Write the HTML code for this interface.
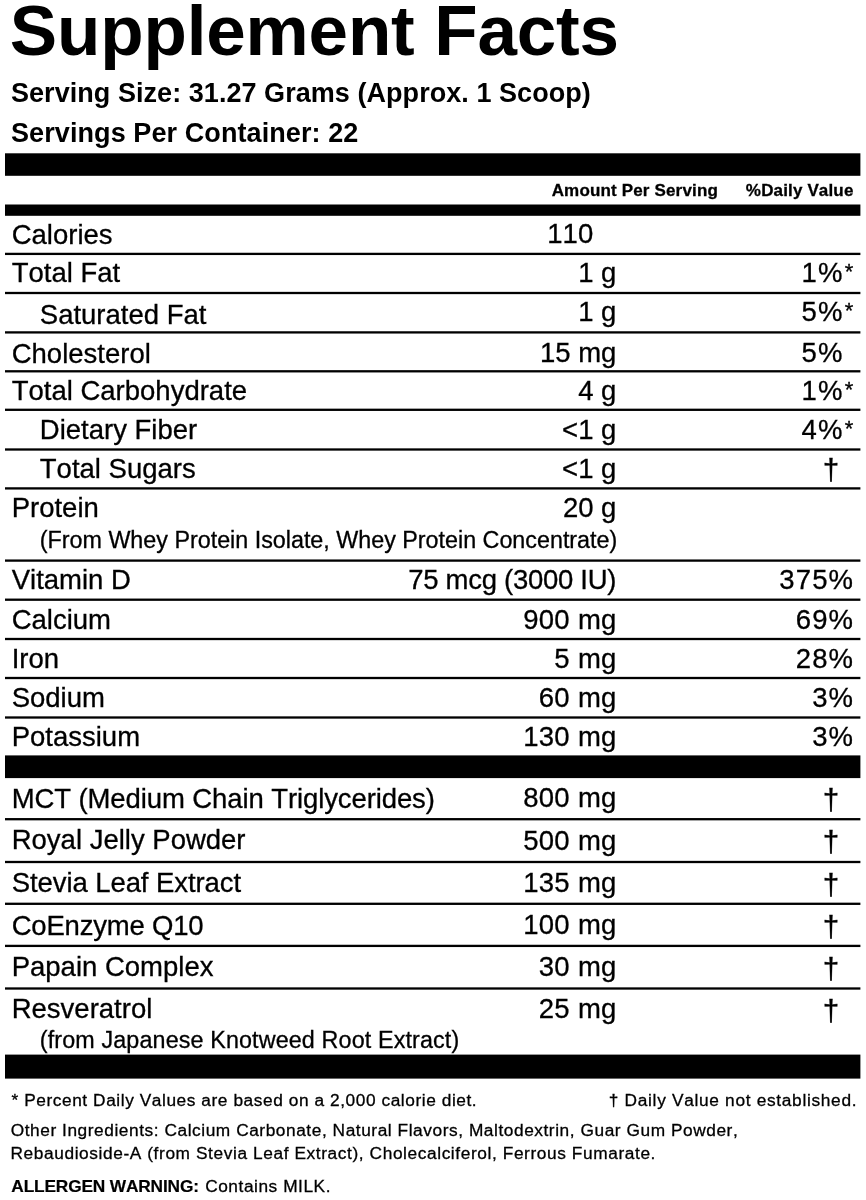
<!DOCTYPE html>
<html lang="en">
<head>
<meta charset="utf-8">
<title>Supplement Facts</title>
<style>
html,body{margin:0;padding:0;background:#fff;}
body{width:866px;height:1200px;overflow:hidden;}
#label{position:relative;width:866px;height:1200px;background:#fff;color:#000;font-family:"Liberation Sans", Arial, Helvetica, sans-serif;overflow:hidden;}
#rules{position:absolute;left:0;top:0;width:866px;height:1200px;}
.t{position:absolute;white-space:nowrap;line-height:0;color:#000;font-kerning:none;-webkit-text-stroke:0.3px #000;}
.fn{-webkit-text-stroke:0.3px #000;}
.b{-webkit-text-stroke:0;}
.t::before{content:"";display:inline-block;width:0;height:40px;}
.h{visibility:hidden;}
.a{font-size:80%;vertical-align:2.8px;margin-left:1.25px;}
.al b{font-weight:700;letter-spacing:-0.15px;-webkit-text-stroke:0.2px #000;}
.al span{letter-spacing:0.55px;margin-left:1px;}
</style>
</head>
<body>
<div id="label">
<svg id="rules" width="866" height="1200" viewBox="0 0 866 1200" fill="#000">
<rect x="5" y="153.3" width="855.4" height="22.50"/>
<rect x="5" y="204.5" width="855.4" height="11.30"/>
<rect x="5" y="252.75" width="855.4" height="2.3"/>
<rect x="5" y="291.85" width="855.4" height="2.3"/>
<rect x="5" y="331.25" width="855.4" height="2.3"/>
<rect x="5" y="370.15" width="855.4" height="2.3"/>
<rect x="5" y="408.65" width="855.4" height="2.3"/>
<rect x="5" y="448.35" width="855.4" height="2.3"/>
<rect x="5" y="487.25" width="855.4" height="2.3"/>
<rect x="5" y="559.45" width="855.4" height="2.3"/>
<rect x="5" y="598.55" width="855.4" height="2.3"/>
<rect x="5" y="637.85" width="855.4" height="2.3"/>
<rect x="5" y="676.85" width="855.4" height="2.3"/>
<rect x="5" y="716.35" width="855.4" height="2.3"/>
<rect x="5" y="755.4" width="855.4" height="22.70"/>
<rect x="5" y="818.05" width="855.4" height="2.3"/>
<rect x="5" y="860.85" width="855.4" height="2.3"/>
<rect x="5" y="902.65" width="855.4" height="2.3"/>
<rect x="5" y="944.75" width="855.4" height="2.3"/>
<rect x="5" y="987.35" width="855.4" height="2.3"/>
<rect x="5" y="1054.6" width="855.4" height="24.00"/>
</svg>
<div class="t b" style="top:14.70px;font-size:71px;left:9.8px;font-weight:700;letter-spacing:-0.15px;">Supplement Facts</div>
<div class="t b" style="top:61.60px;font-size:27px;left:11px;font-weight:700;letter-spacing:0.05px;">Serving Size: 31.27 Grams (Approx. 1 Scoop)</div>
<div class="t b" style="top:101.50px;font-size:27px;left:11px;font-weight:700;letter-spacing:0.09px;">Servings Per Container: 22</div>
<div class="t" style="top:156.00px;font-size:17px;right:148.00px;font-weight:700;letter-spacing:0.16px;">Amount Per Serving</div>
<div class="t" style="top:156.00px;font-size:17px;right:12.50px;font-weight:700;letter-spacing:0.15px;">%Daily Value</div>
<div class="t" style="top:203.50px;font-size:27.5px;left:11.7px;">Calories</div>
<div class="t" style="top:203.30px;font-size:27.5px;left:547.3px;">110</div>
<div class="t" style="top:242.00px;font-size:27.5px;left:11.7px;">Total Fat</div>
<div class="t" style="top:242.20px;font-size:27.5px;right:249.60px;">1 g</div>
<div class="t" style="top:242.20px;font-size:27.5px;right:11.65px;letter-spacing:1.1px;">1%<span class='a'>*</span></div>
<div class="t" style="top:283.70px;font-size:27.5px;left:39.8px;">Saturated Fat</div>
<div class="t" style="top:281.00px;font-size:27.5px;right:249.60px;">1 g</div>
<div class="t" style="top:281.00px;font-size:27.5px;right:11.65px;letter-spacing:1.1px;">5%<span class='a'>*</span></div>
<div class="t" style="top:322.80px;font-size:27.5px;left:11.7px;">Cholesterol</div>
<div class="t" style="top:322.00px;font-size:27.5px;right:249.60px;">15 mg</div>
<div class="t" style="top:322.00px;font-size:27.5px;right:11.65px;letter-spacing:1.1px;">5%<span class='a h'>*</span></div>
<div class="t" style="top:359.70px;font-size:27.5px;left:11.7px;">Total Carbohydrate</div>
<div class="t" style="top:360.00px;font-size:27.5px;right:249.60px;">4 g</div>
<div class="t" style="top:360.00px;font-size:27.5px;right:11.65px;letter-spacing:1.1px;">1%<span class='a'>*</span></div>
<div class="t" style="top:398.50px;font-size:27.5px;left:39.8px;">Dietary Fiber</div>
<div class="t" style="top:399.00px;font-size:27.5px;right:249.60px;">&lt;1 g</div>
<div class="t" style="top:398.50px;font-size:27.5px;right:11.65px;letter-spacing:1.1px;">4%<span class='a'>*</span></div>
<div class="t" style="top:438.20px;font-size:27.5px;left:39.8px;">Total Sugars</div>
<div class="t" style="top:438.20px;font-size:27.5px;right:249.60px;">&lt;1 g</div>
<div class="t" style="top:440.30px;font-size:29.6px;right:26.70px;">†</div>
<div class="t" style="top:476.80px;font-size:27.5px;left:11.7px;">Protein</div>
<div class="t" style="top:476.60px;font-size:27.5px;right:249.60px;">20 g</div>
<div class="t" style="top:508.30px;font-size:23.3px;left:39.8px;">(From Whey Protein Isolate, Whey Protein Concentrate)</div>
<div class="t" style="top:549.00px;font-size:27.5px;left:11.7px;">Vitamin D</div>
<div class="t" style="top:549.00px;font-size:27.5px;right:249.88px;letter-spacing:-0.28px;">75 mcg (3000 IU)</div>
<div class="t" style="top:549.00px;font-size:27.5px;right:11.90px;letter-spacing:1.1px;">375%</div>
<div class="t" style="top:589.00px;font-size:27.5px;left:11.7px;">Calcium</div>
<div class="t" style="top:588.50px;font-size:27.5px;right:249.30px;letter-spacing:0.3px;">900 mg</div>
<div class="t" style="top:588.50px;font-size:27.5px;right:11.90px;letter-spacing:1.1px;">69%</div>
<div class="t" style="top:627.50px;font-size:27.5px;left:11.7px;">Iron</div>
<div class="t" style="top:627.50px;font-size:27.5px;right:249.30px;letter-spacing:0.3px;">5 mg</div>
<div class="t" style="top:627.50px;font-size:27.5px;right:11.90px;letter-spacing:1.1px;">28%</div>
<div class="t" style="top:666.50px;font-size:27.5px;left:11.7px;">Sodium</div>
<div class="t" style="top:666.50px;font-size:27.5px;right:249.30px;letter-spacing:0.3px;">60 mg</div>
<div class="t" style="top:666.50px;font-size:27.5px;right:11.90px;letter-spacing:1.1px;">3%</div>
<div class="t" style="top:705.50px;font-size:27.5px;left:11.7px;">Potassium</div>
<div class="t" style="top:705.50px;font-size:27.5px;right:249.30px;letter-spacing:0.3px;">130 mg</div>
<div class="t" style="top:705.50px;font-size:27.5px;right:11.90px;letter-spacing:1.1px;">3%</div>
<div class="t" style="top:768.00px;font-size:27.5px;left:11.7px;letter-spacing:-0.1px;">MCT (Medium Chain Triglycerides)</div>
<div class="t" style="top:767.30px;font-size:27.5px;right:249.30px;letter-spacing:0.3px;">800 mg</div>
<div class="t" style="top:770.40px;font-size:29.6px;right:26.70px;">†</div>
<div class="t" style="top:809.30px;font-size:27.5px;left:11.7px;">Royal Jelly Powder</div>
<div class="t" style="top:809.70px;font-size:27.5px;right:249.30px;letter-spacing:0.3px;">500 mg</div>
<div class="t" style="top:812.30px;font-size:29.6px;right:26.70px;">†</div>
<div class="t" style="top:851.70px;font-size:27.5px;left:11.7px;letter-spacing:-0.08px;">Stevia Leaf Extract</div>
<div class="t" style="top:852.20px;font-size:27.5px;right:249.30px;letter-spacing:0.3px;">135 mg</div>
<div class="t" style="top:854.50px;font-size:29.6px;right:26.70px;">†</div>
<div class="t" style="top:894.70px;font-size:27.5px;left:11.7px;letter-spacing:-0.2px;">CoEnzyme Q10</div>
<div class="t" style="top:894.30px;font-size:27.5px;right:249.30px;letter-spacing:0.3px;">100 mg</div>
<div class="t" style="top:897.10px;font-size:29.6px;right:26.70px;">†</div>
<div class="t" style="top:936.30px;font-size:27.5px;left:11.7px;">Papain Complex</div>
<div class="t" style="top:936.00px;font-size:27.5px;right:249.30px;letter-spacing:0.3px;">30 mg</div>
<div class="t" style="top:938.60px;font-size:29.6px;right:26.70px;">†</div>
<div class="t" style="top:977.80px;font-size:27.5px;left:11.7px;">Resveratrol</div>
<div class="t" style="top:977.50px;font-size:27.5px;right:249.30px;letter-spacing:0.3px;">25 mg</div>
<div class="t" style="top:980.70px;font-size:29.6px;right:26.70px;">†</div>
<div class="t" style="top:1008.20px;font-size:23.3px;left:39.8px;letter-spacing:0.14px;">(from Japanese Knotweed Root Extract)</div>
<div class="t fn" style="top:1066.20px;font-size:17.3px;left:11.5px;letter-spacing:0.57px;">* Percent Daily Values are based on a 2,000 calorie diet.</div>
<div class="t fn" style="top:1066.20px;font-size:17.3px;right:8.80px;letter-spacing:0.69px;">† Daily Value not established.</div>
<div class="t fn" style="top:1096.40px;font-size:17.3px;left:10.7px;letter-spacing:0.56px;">Other Ingredients: Calcium Carbonate, Natural Flavors, Maltodextrin, Guar Gum Powder,</div>
<div class="t fn" style="top:1119.10px;font-size:17.3px;left:10.5px;letter-spacing:0.6px;">Rebaudioside-A (from Stevia Leaf Extract), Cholecalciferol, Ferrous Fumarate.</div>
<div class="t fn al" style="top:1151.80px;font-size:17.3px;left:11.3px;"><b>ALLERGEN WARNING:</b><span> Contains MILK.</span></div>
</div>
</body>
</html>
